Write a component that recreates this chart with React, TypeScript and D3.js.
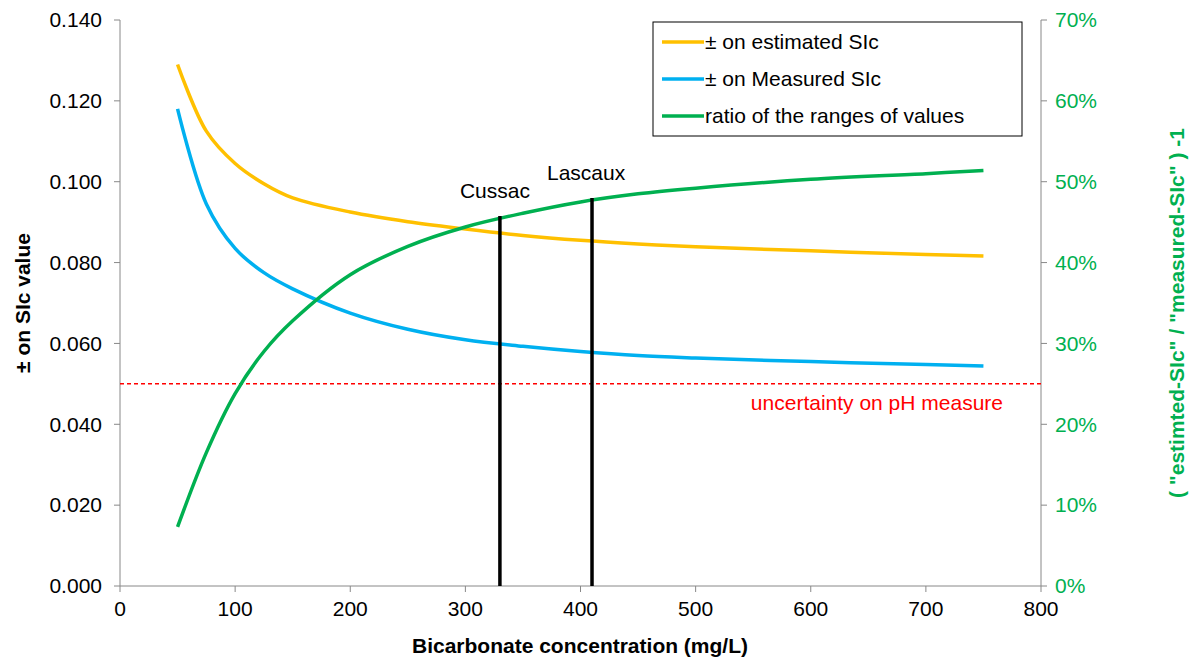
import React, { useEffect, useRef } from 'react'
import * as d3 from 'd3'

const bicarbonate = [50, 75, 100, 125, 150, 200, 250, 300, 350, 400, 450, 500, 600, 700, 750]
const estimatedSlc = [0.129, 0.1125, 0.1045, 0.0995, 0.096, 0.0925, 0.0901, 0.0883, 0.0867, 0.0855, 0.0846, 0.0839, 0.0829, 0.082, 0.0816]
const measuredSlc = [0.118, 0.0945, 0.0835, 0.0775, 0.0735, 0.0675, 0.0635, 0.0609, 0.0593, 0.058, 0.057, 0.0564, 0.0555, 0.0548, 0.0544]
const ratio = [0.073, 0.165, 0.238, 0.29, 0.328, 0.385, 0.42, 0.444, 0.461, 0.475, 0.485, 0.492, 0.503, 0.51, 0.514]
const sites = [
  { name: 'Cussac', x: 330, top: 0.0915 },
  { name: 'Lascaux', x: 410, top: 0.096 },
]
const leftTicks = [0, 0.02, 0.04, 0.06, 0.08, 0.1, 0.12, 0.14]
const rightTicks = [0, 0.1, 0.2, 0.3, 0.4, 0.5, 0.6, 0.7]
const xTicks = [0, 100, 200, 300, 400, 500, 600, 700, 800]

export default function App(): React.ReactElement {
  const ref = useRef<HTMLDivElement>(null)

  useEffect(() => {
    const width = 1197
    const height = 669
    const left = 120
    const right = 1041
    const top = 20
    const bottom = 586
    const green = '#00b050'
    const fs = 21

    d3.select(ref.current).select('svg').remove()
    const svg = d3
      .select(ref.current)
      .append('svg')
      .attr('width', width)
      .attr('height', height)
      .style('display', 'block')
      .style('font-family', 'Liberation Sans, Arial, sans-serif')

    const x = d3.scaleLinear().domain([0, 800]).range([left, right])
    const y = d3.scaleLinear().domain([0, 0.14]).range([bottom, top])
    const y2 = d3.scaleLinear().domain([0, 0.7]).range([bottom, top])

    svg.append('line').attr('x1', left).attr('x2', left).attr('y1', top).attr('y2', bottom).attr('stroke', '#888')
    svg.append('line').attr('x1', right).attr('x2', right).attr('y1', top).attr('y2', bottom).attr('stroke', '#888')
    svg.append('line').attr('x1', left).attr('x2', right).attr('y1', bottom).attr('y2', bottom).attr('stroke', '#888')

    const ax = svg.append('g').attr('font-size', fs)
    leftTicks.forEach((t) => {
      ax.append('line').attr('x1', left - 6).attr('x2', left).attr('y1', y(t)).attr('y2', y(t)).attr('stroke', '#888')
      ax.append('text').attr('x', left - 18).attr('y', y(t)).attr('dy', '0.35em').attr('text-anchor', 'end').text(t.toFixed(3))
    })
    rightTicks.forEach((t) => {
      ax.append('line').attr('x1', right).attr('x2', right + 6).attr('y1', y2(t)).attr('y2', y2(t)).attr('stroke', '#888')
      ax.append('text').attr('x', right + 14).attr('y', y2(t)).attr('dy', '0.35em').attr('fill', green).text(`${Math.round(t * 100)}%`)
    })
    xTicks.forEach((t) => {
      ax.append('line').attr('x1', x(t)).attr('x2', x(t)).attr('y1', bottom).attr('y2', bottom + 6).attr('stroke', '#888')
      ax.append('text').attr('x', x(t)).attr('y', bottom + 30).attr('text-anchor', 'middle').text(t)
    })

    svg.append('text').attr('x', 580).attr('y', 653).attr('text-anchor', 'middle')
      .attr('font-size', fs).attr('font-weight', 'bold').text('Bicarbonate concentration (mg/L)')
    svg.append('text').attr('transform', `translate(30,${(top + bottom) / 2}) rotate(-90)`).attr('text-anchor', 'middle')
      .attr('font-size', fs).attr('font-weight', 'bold').text('± on SIc value')
    svg.append('text').attr('transform', `translate(1184,${(top + bottom) / 2 + 10}) rotate(-90)`).attr('text-anchor', 'middle')
      .attr('font-size', fs).attr('font-weight', 'bold').attr('fill', green).text('( "estimted-SIc" / "measured-SIc" ) -1')

    svg.append('line').attr('x1', left).attr('x2', right).attr('y1', y(0.05)).attr('y2', y(0.05))
      .attr('stroke', '#ff0000').attr('stroke-width', 1.5).attr('stroke-dasharray', '4,3')
    svg.append('text').attr('x', 1003).attr('y', y(0.05) + 26).attr('text-anchor', 'end').attr('fill', '#ff0000')
      .attr('font-size', fs).text('uncertainty on pH measure')

    const line = (vals: number[], sc: d3.ScaleLinear<number, number>) =>
      d3.line<number>().x((_, i) => x(bicarbonate[i])).y((v) => sc(v)).curve(d3.curveCatmullRom)(vals)

    svg.append('path').attr('d', line(estimatedSlc, y)).attr('fill', 'none').attr('stroke', '#ffc000').attr('stroke-width', 3.5)
    svg.append('path').attr('d', line(measuredSlc, y)).attr('fill', 'none').attr('stroke', '#00b0f0').attr('stroke-width', 3.5)
    svg.append('path').attr('d', line(ratio, y2)).attr('fill', 'none').attr('stroke', green).attr('stroke-width', 3.5)

    sites.forEach((s, i) => {
      svg.append('line').attr('x1', x(s.x)).attr('x2', x(s.x)).attr('y1', y(0)).attr('y2', y(s.top))
        .attr('stroke', '#000').attr('stroke-width', 3.5)
      svg.append('text').attr('x', i === 0 ? x(s.x) - 40 : x(s.x) - 45).attr('y', i === 0 ? 198 : 180)
        .attr('font-size', fs).text(s.name)
    })

    const lg = svg.append('g')
    lg.append('rect').attr('x', 653).attr('y', 22).attr('width', 369).attr('height', 114).attr('fill', '#fff').attr('stroke', '#000')
    const items = [
      { label: '± on estimated SIc', color: '#ffc000' },
      { label: '± on Measured SIc', color: '#00b0f0' },
      { label: 'ratio of the ranges of values', color: green },
    ]
    items.forEach((d, i) => {
      const yy = 42 + i * 37
      lg.append('line').attr('x1', 662).attr('x2', 704).attr('y1', yy).attr('y2', yy).attr('stroke', d.color).attr('stroke-width', 3.5)
      lg.append('text').attr('x', 705).attr('y', yy).attr('dy', '0.35em').attr('font-size', fs).text(d.label)
    })
  }, [])

  return <div ref={ref} style={{ margin: -8 }}></div>
}
